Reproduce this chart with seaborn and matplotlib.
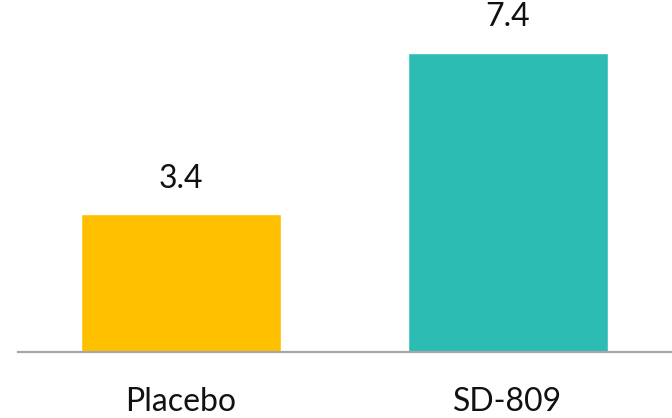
import matplotlib
matplotlib.use("Agg")
import matplotlib.pyplot as plt
import seaborn as sns
import pandas as pd

groups = ["Placebo", "SD-809"]
values = [3.4, 7.4]
colors = ["#FFC000", "#2CBCB4"]

sns.set_style("white")
plt.rcParams["font.family"] = ["Lato", "DejaVu Sans"]

df = pd.DataFrame({"group": groups, "value": values})

fig = plt.figure(figsize=(6.72, 4.18), dpi=100)
ax = fig.add_axes([18 / 672, 66 / 418, 654 / 672, 352 / 418])

sns.barplot(data=df, x="group", y="value", hue="group", palette=colors,
            width=0.61, legend=False, ax=ax, saturation=1)

# value labels above bars
for i, v in enumerate(values):
    ax.text(i, v + 0.5, f"{v:.1f}", ha="center", va="bottom", fontsize=23, color="#111111")

ax.set_xlim(-0.498, 1.502)
ax.set_ylim(0, 8.70)
ax.set_xlabel("")
ax.set_ylabel("")
ax.set_yticks([])
ax.tick_params(axis="x", length=0, labelsize=23, pad=25, labelcolor="#111111")
for s in ["top", "right", "left"]:
    ax.spines[s].set_visible(False)
ax.spines["bottom"].set_color("#A6A6A6")
ax.spines["bottom"].set_linewidth(1.6)

fig.savefig("out.png", dpi=100)
